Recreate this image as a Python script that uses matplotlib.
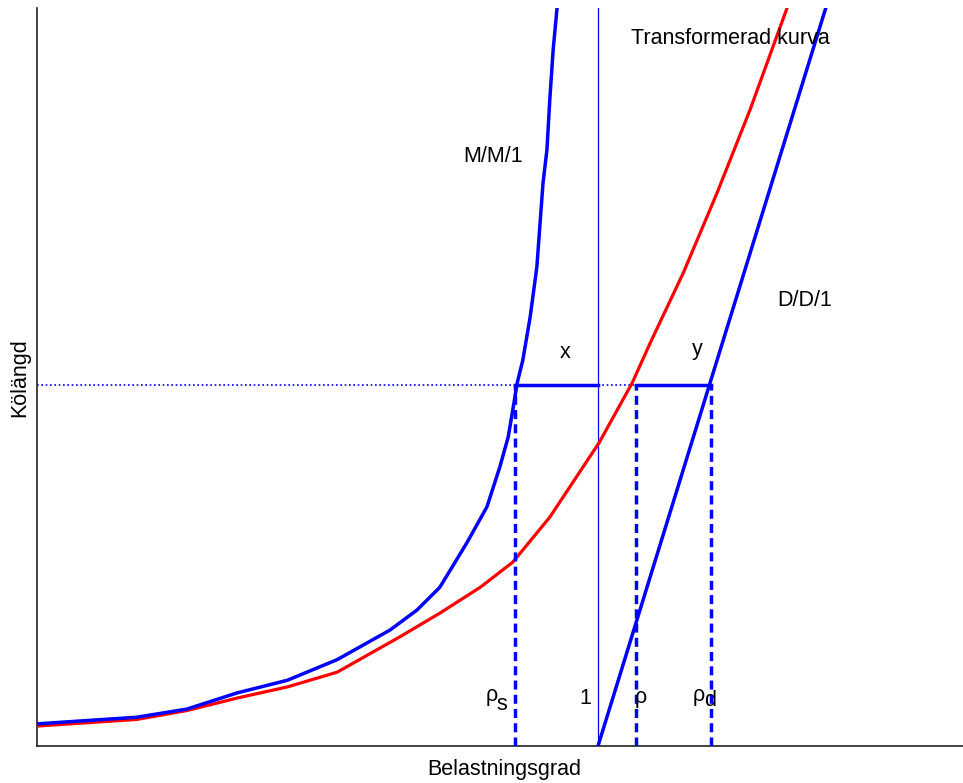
import matplotlib
matplotlib.use("Agg")
import matplotlib.pyplot as plt

plt.rcParams['font.family'] = ['Liberation Sans', 'DejaVu Sans']

# M/M/1 curve (load, queue length)
mm1_x = [0.0, 0.178, 0.267, 0.357, 0.446, 0.535, 0.629, 0.677, 0.718, 0.766, 0.802,
         0.825, 0.840, 0.848, 0.856, 0.866, 0.879, 0.891, 0.902, 0.909, 0.914, 0.920, 0.927]
mm1_y = [0.030, 0.039, 0.050, 0.072, 0.089, 0.117, 0.157, 0.184, 0.215, 0.275, 0.324,
         0.378, 0.419, 0.455, 0.492, 0.523, 0.581, 0.649, 0.763, 0.808, 0.875, 0.943, 1.0]

# Transformed curve
tr_x = [0.0, 0.178, 0.267, 0.357, 0.446, 0.535, 0.647, 0.718, 0.790, 0.848, 0.914,
        1.002, 1.061, 1.093, 1.152, 1.212, 1.271, 1.337]
tr_y = [0.027, 0.036, 0.048, 0.065, 0.080, 0.100, 0.148, 0.180, 0.215, 0.249, 0.310,
        0.411, 0.492, 0.546, 0.641, 0.749, 0.862, 1.0]

# D/D/1 line
dd1_x = [1.0, 1.406]
dd1_y = [0.0, 1.0]

# Marked levels
level = 0.489
rho_s = 0.852
rho_1 = 1.0
rho_t = 1.068
rho_d = 1.201

fig = plt.figure(figsize=(9.63, 7.83), dpi=100)
ax = fig.add_axes([37/963, 37/783, 926/963, 738/783])
ax.set_xlim(0, 926/561)
ax.set_ylim(0, 1)

blue = '#0000ff'
red = '#ff0000'

ax.plot(tr_x, tr_y, color=red, lw=2.3, zorder=3)
ax.plot(mm1_x, mm1_y, color=blue, lw=2.5, zorder=4)
ax.plot(dd1_x, dd1_y, color=blue, lw=2.5, zorder=4)

# vertical line at rho = 1
ax.plot([rho_1, rho_1], [0, 1], color=blue, lw=0.9, zorder=2)

# horizontal dotted / solid segments
ax.plot([0, rho_s], [level, level], color=blue, lw=1.2, ls=(0, (1, 1.6)), zorder=2)
ax.plot([rho_s, rho_1], [level, level], color=blue, lw=2.5, zorder=4)
ax.plot([rho_1, rho_t], [level, level], color=blue, lw=1.2, ls=(0, (1, 1.6)), zorder=2)
ax.plot([rho_t, rho_d], [level, level], color=blue, lw=2.5, zorder=4)

# vertical dashed lines
for xv in [rho_s, rho_t, rho_d]:
    ax.plot([xv, xv], [0, level], color=blue, lw=2.5, ls=(0, (2.6, 1.5)), zorder=4)

fs = 15.5

def ptxt(px, py, s, **kw):
    fig.text(px/963, 1 - py/783, s, fontsize=fs, ha='center', va='center', zorder=6, **kw)

ptxt(493, 157, 'M/M/1')
ptxt(730, 38, 'Transformerad kurva')
ptxt(805, 300, 'D/D/1')
ptxt(565, 353, 'x')
ptxt(697, 349, 'y')
ptxt(492, 695, 'ρ')
ptxt(502, 704, 's')
ptxt(585, 698, '1')
ptxt(641, 698, 'ρ')
ptxt(699, 695, 'ρ')
ptxt(710, 701, 'd')

ax.set_xticks([])
ax.set_yticks([])
for s in ['top', 'right']:
    ax.spines[s].set_visible(False)
for s in ['left', 'bottom']:
    ax.spines[s].set_color('#222222')
    ax.spines[s].set_linewidth(1.2)

fig.text(20/963, 1 - 378/783, 'Kölängd', rotation=90, fontsize=fs, ha='center', va='center')
fig.text(504/963, 1 - 769/783, 'Belastningsgrad', fontsize=fs, ha='center', va='center')

fig.savefig('out.png', dpi=100)
